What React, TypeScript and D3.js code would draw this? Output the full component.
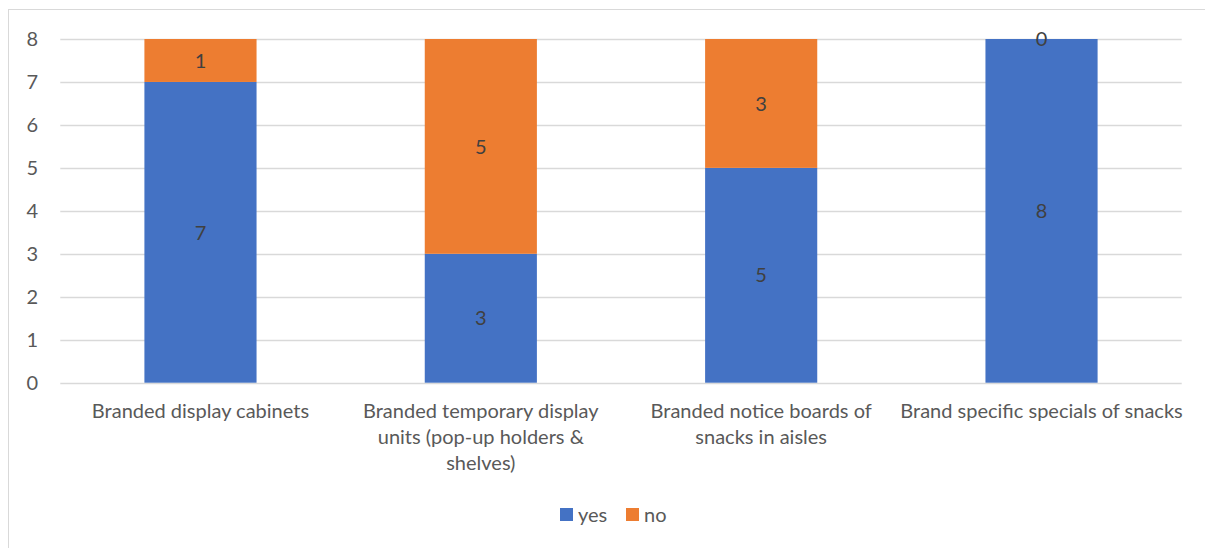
import React from "react";
import * as d3 from "d3";

const categories: string[][] = [
  ["Branded display cabinets"],
  ["Branded temporary display", "units (pop-up holders &", "shelves)"],
  ["Branded notice boards of", "snacks in aisles"],
  ["Brand specific specials of snacks"],
];
const yesValues = [7, 3, 5, 8];
const noValues = [1, 5, 3, 0];
const seriesNames = ["yes", "no"];
const seriesColors = ["#4472C4", "#ED7D31"];
const yTicks = [0, 1, 2, 3, 4, 5, 6, 7, 8];

const W = 1205;
const H = 548;
const FONT = "Lato, 'Open Sans', sans-serif";

export default function App() {
  const x = d3
    .scaleBand<number>()
    .domain(categories.map((_, i) => i))
    .range([60.3, 1181.7])
    .paddingInner(0)
    .paddingOuter(0);
  const y = d3.scaleLinear().domain([0, 8]).range([382.7, 39]);
  const barW = x.bandwidth() * 0.4;

  const stack = d3
    .stack<number>()
    .keys(["yes", "no"])
    .value((i, key) => (key === "yes" ? yesValues[i] : noValues[i]));
  const series = stack(categories.map((_, i) => i));

  return (
    <svg
      width={W}
      height={H}
      style={{ position: "absolute", left: 0, top: 0, background: "#fff" }}
      fontFamily={FONT}
    >
      <rect x={8.5} y={9.5} width={W + 20} height={H + 20} fill="#fff" stroke="#d9d9d9" strokeWidth={1} />
      {yTicks.map((t) => (
        <g key={t}>
          <line x1={60.3} x2={1181.7} y1={Math.round(y(t)) + 0.5} y2={Math.round(y(t)) + 0.5} stroke="#d9d9d9" strokeWidth={1.3} />
          <text x={38} y={y(t)} dy="0.36em" textAnchor="end" fontSize={20} fill="#595959">
            {t}
          </text>
        </g>
      ))}
      {series.map((s, si) => (
        <g key={si}>
          {s.map((d, i) => {
            const cx = (x(i) as number) + x.bandwidth() / 2;
            return (
              <rect
                key={i}
                x={cx - barW / 2}
                width={barW}
                y={y(d[1])}
                height={y(d[0]) - y(d[1])}
                fill={seriesColors[si]}
              />
            );
          })}
        </g>
      ))}
      {series.map((s, si) => (
        <g key={"l" + si}>
          {s.map((d, i) => {
            const cx = (x(i) as number) + x.bandwidth() / 2;
            const v = d[1] - d[0];
            return (
              <text key={i} x={cx} y={y((d[0] + d[1]) / 2)} dy="0.36em" textAnchor="middle" fontSize={20} fill="#404040">
                {v}
              </text>
            );
          })}
        </g>
      ))}
      {categories.map((lines, i) => {
        const cx = (x(i) as number) + x.bandwidth() / 2;
        return (
          <text key={i} textAnchor="middle" fontSize={20} fill="#595959">
            {lines.map((ln, j) => (
              <tspan key={j} x={cx} y={411 + j * 26} dy="0.36em">
                {ln}
              </tspan>
            ))}
          </text>
        );
      })}
      <g>
        <rect x={560} y={508} width={13} height={13} fill={seriesColors[0]} />
        <text x={578} y={514.5} dy="0.36em" fontSize={20} fill="#595959">{seriesNames[0]}</text>
        <rect x={626} y={508} width={13} height={13} fill={seriesColors[1]} />
        <text x={644} y={514.5} dy="0.36em" fontSize={20} fill="#595959">{seriesNames[1]}</text>
      </g>
    </svg>
  );
}
